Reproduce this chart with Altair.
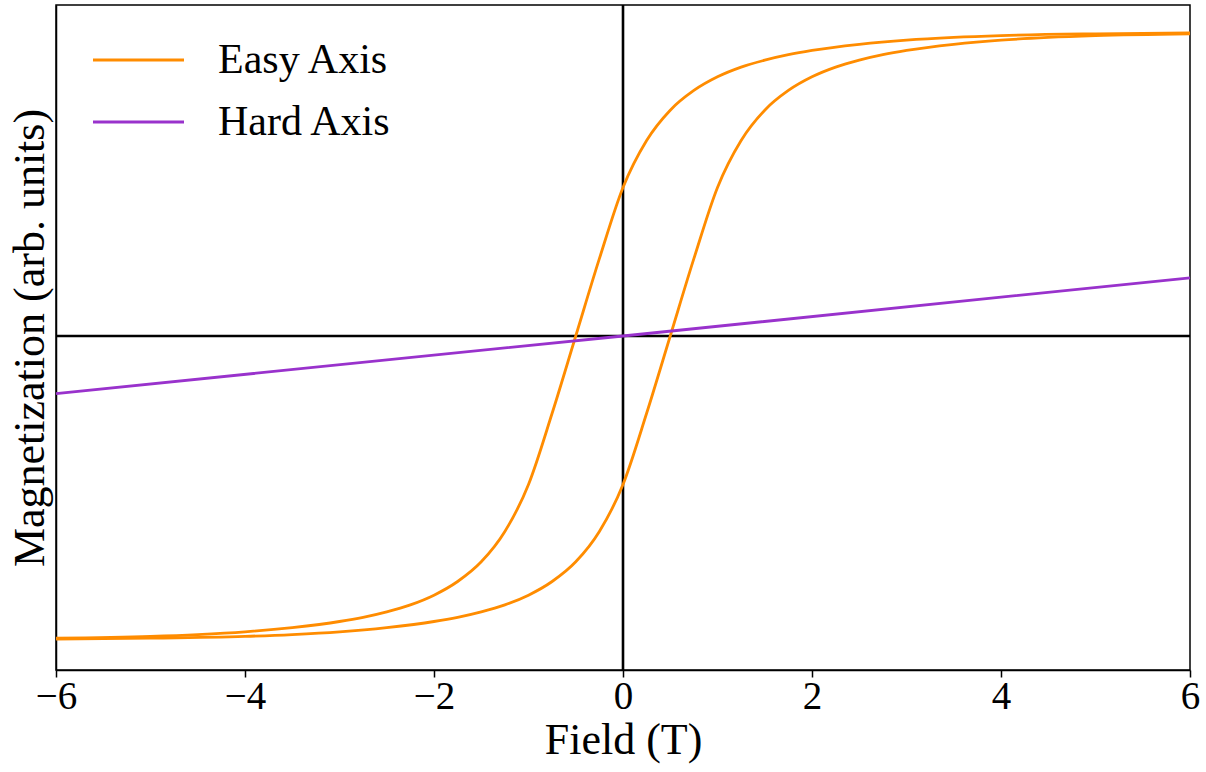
import altair as alt
import pandas as pd

# Easy axis, branch shifted to negative field (descending branch)
field_a = [-6, -5, -4.5, -4, -3.5, -3, -2.75, -2.5, -2.25, -2, -1.75, -1.5, -1.25, -1,
           -0.75, -0.5, -0.25, 0, 0.25, 0.5, 0.75, 1, 1.25, 1.5, 1.75, 2, 2.5, 3, 3.5,
           4, 5, 6]
mag_a = [-0.997, -0.991, -0.985, -0.976, -0.962, -0.942, -0.928, -0.910, -0.887, -0.855,
         -0.810, -0.745, -0.645, -0.490, -0.255, 0.0, 0.255, 0.490, 0.645, 0.745, 0.810,
         0.855, 0.887, 0.910, 0.928, 0.942, 0.962, 0.976, 0.985, 0.991, 0.997, 1.0]

# Easy axis, branch shifted to positive field (ascending branch)
field_b = [-6, -5, -4, -3.5, -3, -2.5, -2, -1.75, -1.5, -1.25, -1, -0.75, -0.5, -0.25,
           0, 0.25, 0.5, 0.75, 1, 1.25, 1.5, 1.75, 2, 2.25, 2.5, 2.75, 3, 3.5, 4, 4.5,
           5, 6]
mag_b = [-1.0, -0.997, -0.991, -0.985, -0.976, -0.962, -0.942, -0.928, -0.910, -0.887,
         -0.855, -0.810, -0.745, -0.645, -0.490, -0.255, 0.0, 0.255, 0.490, 0.645,
         0.745, 0.810, 0.855, 0.887, 0.910, 0.928, 0.942, 0.962, 0.976, 0.985, 0.991,
         0.997]

# Hard axis
field_hard = [-6, 0, 6]
mag_hard = [-0.19, 0.0, 0.192]

x_ticks = [-6, -4, -2, 0, 2, 4, 6]
series_names = ["Easy Axis", "Hard Axis"]
series_colors = ["#FF8C00", "#9932CC"]

rows = []
for h, m in zip(field_a, mag_a):
    rows.append({"field": h, "mag": m, "series": "Easy Axis", "branch": "easy_a"})
for h, m in zip(field_b, mag_b):
    rows.append({"field": h, "mag": m, "series": "Easy Axis", "branch": "easy_b"})
for h, m in zip(field_hard, mag_hard):
    rows.append({"field": h, "mag": m, "series": "Hard Axis", "branch": "hard"})
df = pd.DataFrame(rows)

FONT = "Liberation Serif"

x_enc = alt.X(
    "field:Q",
    scale=alt.Scale(domain=[-6, 6], nice=False, zero=False),
    axis=alt.Axis(values=x_ticks, title="Field (T)", grid=False, format="d",
                  labelFlush=False, labelOverlap=False, labelBound=False,
                  labelFont=FONT, labelFontSize=39, labelColor="black",
                  labelPadding=0, tickSize=7, tickWidth=1.5, tickColor="black",
                  domainColor="black", domainWidth=1.5,
                  titleFont=FONT, titleFontSize=44, titleFontWeight="normal",
                  titleColor="black", titlePadding=2),
)
y_enc = alt.Y(
    "mag:Q",
    scale=alt.Scale(domain=[-1.102, 1.092], nice=False, zero=False),
    axis=alt.Axis(title="Magnetization (arb. units)", labels=False, ticks=False,
                  grid=False, domainColor="black", domainWidth=1.5,
                  titleFont=FONT, titleFontSize=44, titleFontWeight="normal",
                  titleColor="black", titlePadding=4),
)

zero_df = pd.DataFrame({"field": [0.0], "mag": [0.0]})
vrule = alt.Chart(zero_df).mark_rule(color="black", strokeWidth=2.6).encode(x=x_enc)
hrule = alt.Chart(zero_df).mark_rule(color="black", strokeWidth=2.6).encode(y=y_enc)

lines = alt.Chart(df).mark_line(strokeWidth=2.8, interpolate="monotone").encode(
    x=x_enc,
    y=y_enc,
    detail="branch:N",
    color=alt.Color(
        "series:N",
        scale=alt.Scale(domain=series_names, range=series_colors),
        legend=alt.Legend(
            title=None, orient="none", legendX=42, legendY=14.5,
            symbolType="M-1.1667,0H1.1667", symbolSize=6084, symbolStrokeWidth=2.8,
            labelFont=FONT, labelFontSize=42, labelColor="black", labelLimit=0,
            labelOffset=39, rowPadding=0, padding=0,
        ),
    ),
)

chart = (
    alt.layer(vrule, hrule, lines)
    .properties(
        width=1134, height=665,
        autosize=alt.AutoSizeParams(type="none"),
        padding={"left": 56, "top": 5, "right": 16, "bottom": 102},
        background="white",
    )
    .configure_view(stroke="black", strokeWidth=1.5)
    .configure_axis(labelFont=FONT, titleFont=FONT)
    .configure_legend(labelFont=FONT)
)

chart.save("out.html", embed_options={"renderer": "svg", "actions": False})
